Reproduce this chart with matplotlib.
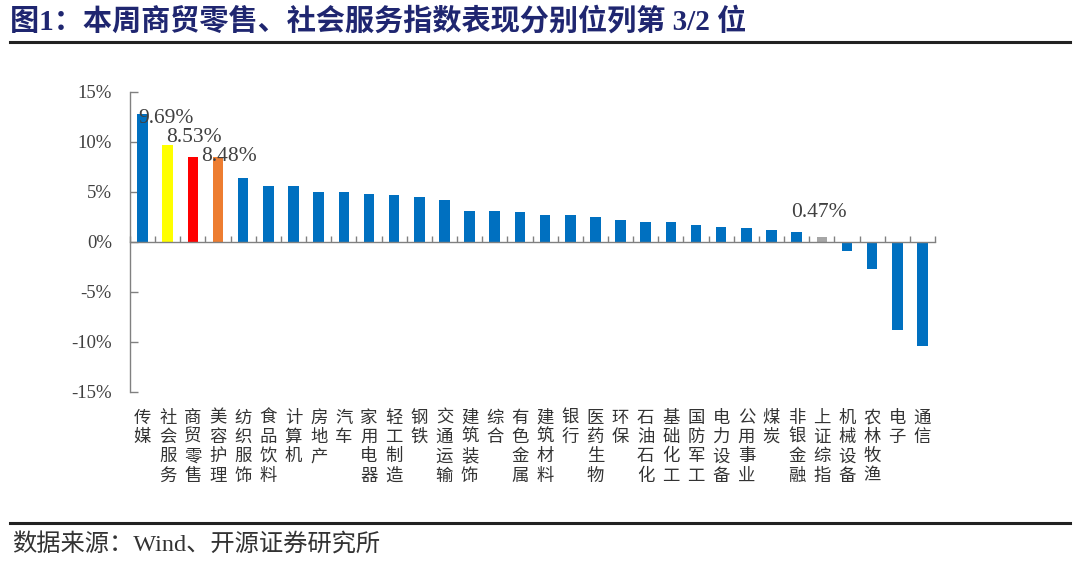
import matplotlib
matplotlib.use("Agg")
import matplotlib.pyplot as plt
from matplotlib.transforms import blended_transform_factory

categories = ["传媒", "社会服务", "商贸零售", "美容护理", "纺织服饰", "食品饮料", "计算机", "房地产",
              "汽车", "家用电器", "轻工制造", "钢铁", "交通运输", "建筑装饰", "综合", "有色金属",
              "建筑材料", "银行", "医药生物", "环保", "石油石化", "基础化工", "国防军工", "电力设备",
              "公用事业", "煤炭", "非银金融", "上证综指", "机械设备", "农林牧渔", "电子", "通信"]
values = [12.8, 9.69, 8.53, 8.48, 6.4, 5.6, 5.6, 5.0, 5.0, 4.8, 4.7, 4.5, 4.2, 3.1, 3.1, 3.0,
          2.7, 2.7, 2.5, 2.2, 2.0, 2.0, 1.7, 1.5, 1.4, 1.2, 1.0, 0.47, -0.85, -2.7, -8.8, -10.4]
highlight = {"社会服务": "#FFFF00", "商贸零售": "#FF0000", "美容护理": "#ED7D31", "上证综指": "#A6A6A6"}
labelled = ["社会服务", "商贸零售", "美容护理", "上证综指"]
yticks = [15, 10, 5, 0, -5, -10, -15]

title = "图1：本周商贸零售、社会服务指数表现分别位列第 3/2 位"
source = "数据来源：Wind、开源证券研究所"

MIX = ["Liberation Serif", "Noto Sans CJK SC"]
CJK = ["Noto Sans CJK SC", "Liberation Serif"]
plt.rcParams["font.family"] = MIX

fig = plt.figure(figsize=(10.8, 5.65), dpi=100)
ax = fig.add_axes([130 / 1080, 1 - 392 / 565, 805 / 1080, 300 / 565])

x = list(range(len(categories)))
colors = [highlight.get(c, "#0070C0") for c in categories]
ax.bar(x, values, width=0.42, color=colors, zorder=2)

ax.set_xlim(-0.5, len(categories) - 0.5)
ax.set_ylim(-15, 15)
ax.set_yticks(yticks)
ax.set_yticklabels([f"{v}%" for v in yticks], fontsize=13.5, color="#404040")

for s in ["top", "right"]:
    ax.spines[s].set_visible(False)
ax.spines["bottom"].set_position(("data", 0))
for s in ["left", "bottom"]:
    ax.spines[s].set_color("#808080")
    ax.spines[s].set_linewidth(1.0)

ax.tick_params(axis="y", direction="in", length=6, width=1, color="#808080", pad=13)
ax.set_xticks([i - 0.5 for i in range(len(categories) + 1)])
ax.set_xticklabels([])
ax.tick_params(axis="x", direction="in", length=4, width=1, color="#808080")

trans = blended_transform_factory(ax.transData, ax.transAxes)
for i, c in enumerate(categories):
    ax.text(i, -0.055, "\n".join(c), transform=trans, ha="center", va="top",
            fontsize=12.5, family=CJK, color="#333333", linespacing=1.1)

offsets = {"社会服务": (-1, 12), "商贸零售": (1, 7), "美容护理": (8, -6), "上证综指": (-2, 11)}
for c in labelled:
    i = categories.index(c)
    dx, dy = offsets[c]
    ax.annotate(f"{values[i]:.2f}%", (i, values[i]), xytext=(dx, dy), textcoords="offset points",
                ha="center", va="bottom", fontsize=15.5, color="#404040", zorder=3)

fig.text(10 / 1080, 1 - 21 / 565, title, ha="left", va="center", fontsize=21,
         fontweight="bold", color="#1F2670", family=MIX)
fig.add_artist(plt.Line2D([10 / 1080, 1070 / 1080], [1 - 42 / 565, 1 - 42 / 565],
                          color="#222222", linewidth=2.2))
fig.add_artist(plt.Line2D([10 / 1080, 1070 / 1080], [1 - 523 / 565, 1 - 523 / 565],
                          color="#222222", linewidth=2.2))
fig.text(12 / 1080, 1 - 545 / 565, source, ha="left", va="center", fontsize=17.5,
         color="#333333", family=MIX)

fig.savefig("out.png", dpi=100)
